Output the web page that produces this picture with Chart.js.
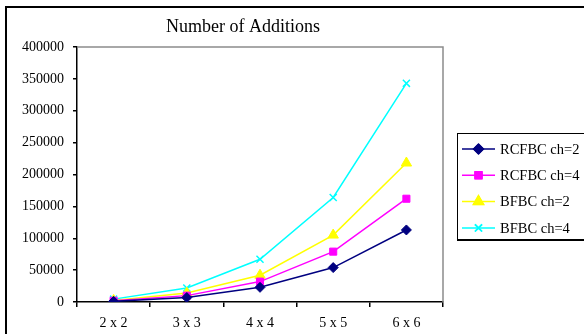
<!DOCTYPE html>
<html>
<head>
<meta charset="utf-8">
<script src="https://cdn.jsdelivr.net/npm/chart.js@4"></script>
<style>
  html, body { margin: 0; padding: 0; background: #fff; }
  #wrap { width: 584px; height: 334px; }
</style>
</head>
<body>
<div id="wrap"><canvas id="c" width="584" height="334"></canvas></div>
<script>
// --- data ---
const categories = ["2 x 2", "3 x 3", "4 x 4", "5 x 5", "6 x 6"];
const rcfbc2 = [1000, 7000, 23000, 54000, 113000];
const rcfbc4 = [2000, 10000, 32000, 79000, 162000];
const bfbc2  = [2500, 14000, 42000, 105000, 218000];
const bfbc4  = [4500, 22000, 67000, 164000, 343000];
const seriesNames = ["RCFBC ch=2", "RCFBC ch=4", "BFBC ch=2", "BFBC ch=4"];
const yTicks = [0, 50000, 100000, 150000, 200000, 250000, 300000, 350000, 400000];

const FONT = "'Liberation Serif', 'DejaVu Serif', serif";

function ds(label, data, color, style, r) {
  return {
    label, data,
    borderColor: color, backgroundColor: color,
    pointBackgroundColor: color, pointBorderColor: color,
    borderWidth: 1.5, pointStyle: style, pointRadius: r, pointHoverRadius: r,
    pointBorderWidth: style === "crossRot" ? 1.5 : 1,
    tension: 0
  };
}

// frame, title, plot border and the boxed legend
const decor = {
  id: "decor",
  beforeDraw(chart) {
    const c = chart.ctx;
    c.save();
    c.fillStyle = "#fff";
    c.fillRect(0, 0, chart.width, chart.height);
    c.strokeStyle = "#000";
    c.lineWidth = 2;
    c.beginPath();
    c.moveTo(6, 340); c.lineTo(6, 7); c.lineTo(590, 7);
    c.stroke();
    c.restore();
  },
  afterDatasetsDraw(chart) {
    const c = chart.ctx, a = chart.chartArea;
    c.save();
    // gray top/right border of plot
    c.strokeStyle = "#8c8c8c";
    c.lineWidth = 1.5;
    c.beginPath();
    c.moveTo(a.left, a.top); c.lineTo(a.right, a.top); c.lineTo(a.right, a.bottom);
    c.stroke();

    // title
    c.fillStyle = "#000";
    c.font = "18px " + FONT;
    c.textAlign = "center";
    c.textBaseline = "middle";
    c.fillText("Number of Additions", 243, 27);

    // legend box
    const bx = 457, by = 133, bw = 140, bh = 106;
    c.strokeStyle = "#000";
    c.lineWidth = 1;
    c.strokeRect(bx + 0.5, by + 0.5, bw, bh);
    c.lineWidth = 2;
    c.beginPath();
    c.moveTo(bx, by + bh + 1); c.lineTo(bx + bw, by + bh + 1);
    c.stroke();

    c.font = "14.5px " + FONT;
    c.textAlign = "left";
    chart.data.datasets.forEach((d, i) => {
      const y = 149 + i * 26.3;
      c.strokeStyle = d.borderColor;
      c.lineWidth = 1.5;
      c.beginPath();
      c.moveTo(462, y); c.lineTo(495, y);
      c.stroke();
      Chart.helpers.drawPoint(c, {
        pointStyle: d.pointStyle, radius: d.pointRadius, borderWidth: d.pointBorderWidth, rotation: 0
      }, 478.5, y);
      c.fillStyle = d.pointBackgroundColor;
      c.strokeStyle = d.pointBorderColor;
      c.lineWidth = d.pointBorderWidth;
      c.beginPath();
      Chart.helpers.drawPoint(c, { pointStyle: d.pointStyle, radius: d.pointRadius, borderWidth: d.pointBorderWidth, rotation: 0 }, 478.5, y);
      c.fillStyle = "#000";
      c.fillText(d.label, 500, y + 1);
    });
    c.restore();
  }
};

new Chart(document.getElementById("c"), {
  type: "line",
  data: {
    labels: categories,
    datasets: [
      ds(seriesNames[0], rcfbc2, "#000080", "rectRot", 5),
      ds(seriesNames[1], rcfbc4, "#ff00ff", "rect", 5),
      ds(seriesNames[2], bfbc2, "#ffff00", "triangle", 6),
      ds(seriesNames[3], bfbc4, "#00ffff", "crossRot", 5)
    ]
  },
  options: {
    responsive: false,
    animation: false,
    events: [],
    layout: { padding: { left: 0, right: 141, top: 47, bottom: 0 } },
    plugins: { legend: { display: false }, title: { display: false }, tooltip: { enabled: false } },
    scales: {
      x: {
        offset: true,
        grid: { display: true, offset: true, drawOnChartArea: false, tickLength: 5, color: "#000", lineWidth: 1.5 },
        border: { display: true, color: "#000", width: 1.5 },
        ticks: { color: "#000", font: { family: FONT, size: 14 }, padding: 8, maxRotation: 0 },
        afterFit(s) { s.height = 32; }
      },
      y: {
        min: 0, max: 400000,
        afterBuildTicks(s) { s.ticks = yTicks.map(v => ({ value: v })); },
        grid: { display: true, drawOnChartArea: false, tickLength: 4, color: "#000", lineWidth: 1.5 },
        border: { display: true, color: "#000", width: 1.5 },
        ticks: { color: "#000", font: { family: FONT, size: 14 }, padding: 9, callback: v => String(v) },
        afterFit(s) { s.width = 77; }
      }
    }
  },
  plugins: [decor]
});
</script>
</body>
</html>
